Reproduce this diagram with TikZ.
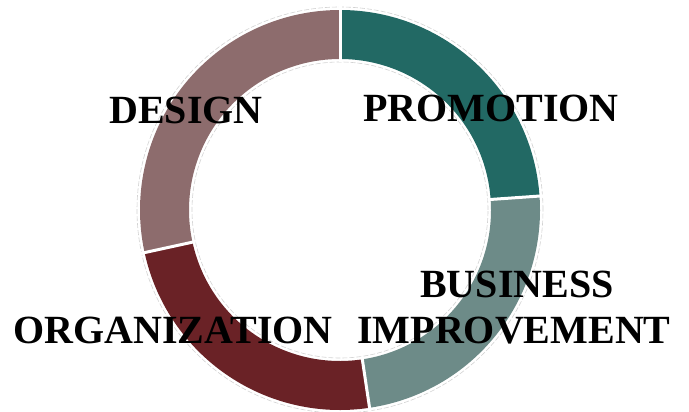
\documentclass[tikz,border=0pt]{standalone}
\usepackage{fontspec}
\setmainfont{Liberation Serif}
\definecolor{promo}{HTML}{226964}
\definecolor{busi}{HTML}{6D8B88}
\definecolor{orga}{HTML}{6A2226}
\definecolor{desi}{HTML}{8D6C6D}
\tikzset{
  lbl/.style={font=\fontsize{40}{48}\selectfont\bfseries, text=black, inner sep=0pt, anchor=base},
  shadow/.style={draw=gray!35, line width=0.6pt, dash pattern=on 5pt off 2pt},
  sep/.style={draw=white, line width=3pt}
}
\newcommand{\sector}[3]{% color, start, end
  \fill[#1] (#2:200pt) arc[start angle=#2, end angle=#3, radius=200pt] -- (#3:151pt) arc[start angle=#3, end angle=#2, radius=151pt] -- cycle;}
\begin{document}
\begin{tikzpicture}
\useasboundingbox (0,0) rectangle (689pt,412pt);
\begin{scope}[shift={(340pt,202pt)}]
  \draw[shadow] (0,0) circle[radius=203pt];
  \draw[shadow] (0,0) circle[radius=148pt];
  \sector{promo}{90}{4}
  \sector{busi}{4}{-81.5}
  \sector{orga}{-81.5}{-167.7}
  \sector{desi}{-167.7}{-270}
  \foreach \a in {90,4,-81.5,-167.7}
    \draw[sep] (\a:148pt) -- (\a:204pt);
\end{scope}
\node[lbl] (design) at (186pt,{412pt-123.3pt}) {DESIGN};
\node[lbl] (promotion) at (491pt,{412pt-121.7pt}) {PROMOTION};
\node[lbl] (business) at (517pt,{412pt-297.3pt}) {BUSINESS};
\node[lbl] (improvement) at (514pt,{412pt-343.3pt}) {IMPROVEMENT};
\node[lbl] (organization) at (173pt,{412pt-343.3pt}) {ORGANIZATION};
\end{tikzpicture}
\end{document}
